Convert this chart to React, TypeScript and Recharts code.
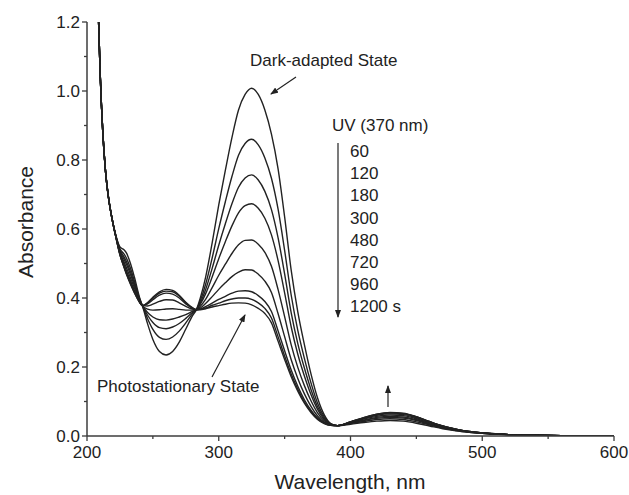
import { LineChart, Line, XAxis, YAxis } from "recharts";

// wavelength grid (nm)
const wavelengths = [
  205, 208, 210, 212, 214, 216, 219,
  222, 225, 228, 230, 233, 236, 240, 242,
  246, 250, 255, 260, 265, 270, 275, 280,
  283, 286, 290, 295, 300, 305, 310, 315,
  320, 325, 330, 335, 340, 345, 350, 355,
  360, 365, 370, 375, 380, 385, 390, 400,
  410, 420, 430, 440, 450, 460, 470, 480,
  490, 500, 520, 540, 560, 580, 600,
];

// steep UV edge, the same for every spectrum (205-219 nm)
const uvEdge = [1.9, 1.3, 1.05, 0.88, 0.77, 0.7, 0.63];

// absorbance from 222 nm on
const dark = [
  0.58, 0.548, 0.54, 0.53, 0.5, 0.46, 0.4, 0.378,
  0.325, 0.28, 0.245, 0.235, 0.245, 0.272, 0.31, 0.348,
  0.366, 0.4, 0.46, 0.56, 0.67, 0.77, 0.865, 0.945,
  0.99, 1.008, 0.99, 0.945, 0.875, 0.775, 0.635, 0.48,
  0.36, 0.265, 0.18, 0.11, 0.062, 0.036, 0.03, 0.034,
  0.039, 0.043, 0.045, 0.043, 0.037, 0.029, 0.021, 0.015,
  0.011, 0.008, 0.004, 0.002, 0.001, 0.0005, 0,
];
const uv60 = [
  0.579, 0.543, 0.528, 0.515, 0.486, 0.449, 0.397, 0.378,
  0.34, 0.309, 0.286, 0.28, 0.287, 0.304, 0.328, 0.354,
  0.366, 0.392, 0.439, 0.516, 0.601, 0.679, 0.752, 0.814,
  0.848, 0.86, 0.844, 0.806, 0.747, 0.658, 0.538, 0.408,
  0.306, 0.225, 0.154, 0.095, 0.056, 0.035, 0.03, 0.036,
  0.042, 0.048, 0.05, 0.048, 0.041, 0.032, 0.023, 0.016,
  0.011, 0.008, 0.004, 0.002, 0.001, 0.0005, 0,
];
const uv120 = [
  0.578, 0.539, 0.52, 0.505, 0.476, 0.442, 0.395, 0.378,
  0.35, 0.329, 0.314, 0.311, 0.316, 0.326, 0.341, 0.358,
  0.366, 0.386, 0.424, 0.486, 0.553, 0.615, 0.673, 0.721,
  0.748, 0.757, 0.742, 0.709, 0.656, 0.575, 0.47, 0.357,
  0.268, 0.197, 0.135, 0.085, 0.052, 0.034, 0.03, 0.037,
  0.045, 0.051, 0.054, 0.052, 0.045, 0.034, 0.024, 0.017,
  0.012, 0.008, 0.004, 0.002, 0.001, 0.0005, 0,
];
const uv180 = [
  0.577, 0.536, 0.513, 0.497, 0.468, 0.436, 0.393, 0.378,
  0.358, 0.345, 0.337, 0.336, 0.339, 0.345, 0.352, 0.361,
  0.366, 0.382, 0.412, 0.461, 0.514, 0.563, 0.609, 0.647,
  0.668, 0.673, 0.66, 0.631, 0.583, 0.509, 0.415, 0.316,
  0.237, 0.174, 0.12, 0.077, 0.048, 0.033, 0.03, 0.038,
  0.046, 0.054, 0.057, 0.055, 0.047, 0.036, 0.025, 0.018,
  0.012, 0.009, 0.004, 0.002, 0.001, 0.0005, 0,
];
const uv300 = [
  0.577, 0.532, 0.505, 0.487, 0.458, 0.429, 0.391, 0.378,
  0.368, 0.365, 0.366, 0.368, 0.369, 0.367, 0.365, 0.365,
  0.366, 0.376, 0.396, 0.43, 0.466, 0.498, 0.529, 0.554,
  0.567, 0.568, 0.556, 0.532, 0.492, 0.425, 0.346, 0.264,
  0.199, 0.146, 0.102, 0.067, 0.044, 0.033, 0.03, 0.039,
  0.049, 0.057, 0.061, 0.059, 0.05, 0.038, 0.027, 0.019,
  0.012, 0.009, 0.004, 0.002, 0.001, 0.0005, 0,
];
const uv480 = [
  0.576, 0.529, 0.498, 0.478, 0.45, 0.422, 0.389, 0.378,
  0.377, 0.382, 0.39, 0.395, 0.394, 0.386, 0.376, 0.368,
  0.366, 0.371, 0.384, 0.404, 0.425, 0.444, 0.462, 0.475,
  0.482, 0.481, 0.469, 0.449, 0.416, 0.355, 0.288, 0.221,
  0.167, 0.122, 0.086, 0.058, 0.04, 0.032, 0.03, 0.04,
  0.051, 0.06, 0.064, 0.062, 0.053, 0.04, 0.028, 0.019,
  0.013, 0.009, 0.004, 0.002, 0.001, 0.0005, 0,
];
const uv720 = [
  0.575, 0.526, 0.493, 0.472, 0.444, 0.418, 0.388, 0.378,
  0.383, 0.395, 0.408, 0.414, 0.411, 0.4, 0.383, 0.371,
  0.366, 0.368, 0.375, 0.385, 0.396, 0.405, 0.414, 0.42,
  0.421, 0.418, 0.407, 0.39, 0.361, 0.305, 0.247, 0.191,
  0.144, 0.105, 0.075, 0.052, 0.038, 0.031, 0.03, 0.041,
  0.052, 0.062, 0.067, 0.065, 0.055, 0.041, 0.029, 0.02,
  0.013, 0.009, 0.004, 0.002, 0.001, 0.0005, 0,
];
const uv960 = [
  0.575, 0.526, 0.491, 0.47, 0.442, 0.416, 0.387, 0.378,
  0.385, 0.399, 0.414, 0.42, 0.418, 0.405, 0.386, 0.371,
  0.366, 0.367, 0.371, 0.379, 0.385, 0.392, 0.397, 0.4,
  0.4, 0.396, 0.386, 0.37, 0.342, 0.288, 0.232, 0.18,
  0.136, 0.099, 0.071, 0.05, 0.037, 0.031, 0.03, 0.041,
  0.053, 0.063, 0.067, 0.065, 0.056, 0.042, 0.029, 0.02,
  0.013, 0.009, 0.004, 0.002, 0.001, 0.0005, 0,
];
const uv1200 = [
  0.575, 0.525, 0.49, 0.468, 0.44, 0.415, 0.387, 0.378,
  0.387, 0.402, 0.418, 0.425, 0.422, 0.408, 0.388, 0.372,
  0.366, 0.366, 0.369, 0.374, 0.378, 0.382, 0.385, 0.386,
  0.385, 0.38, 0.37, 0.355, 0.328, 0.275, 0.222, 0.172,
  0.13, 0.095, 0.068, 0.048, 0.036, 0.031, 0.03, 0.041,
  0.053, 0.063, 0.068, 0.066, 0.056, 0.042, 0.029, 0.02,
  0.013, 0.009, 0.004, 0.002, 0.001, 0.0005, 0,
];

const spectra: [string, number[]][] = [
  ["dark", dark], ["s60", uv60], ["s120", uv120], ["s180", uv180], ["s300", uv300],
  ["s480", uv480], ["s720", uv720], ["s960", uv960], ["s1200", uv1200],
];

const timeLabels = ["60", "120", "180", "300", "480", "720", "960", "1200 s"];
const xTicks = [200, 250, 300, 350, 400, 450, 500, 550, 600];
const yTicks = [0, 0.1, 0.2, 0.3, 0.4, 0.5, 0.6, 0.7, 0.8, 0.9, 1.0, 1.1, 1.2];

const data = wavelengths.map((w, i) => {
  const row: Record<string, number> = { w };
  spectra.forEach(([key, vals]) => {
    row[key] = i < uvEdge.length ? uvEdge[i] : vals[i - uvEdge.length];
  });
  return row;
});

const W = 629, H = 495;
const PLOT_LEFT = 87, PLOT_TOP = 22, PLOT_RIGHT = 614, PLOT_BOTTOM = 436;
const AXIS = "#3c3c3c";
const INK = "#222";
const FONT = "'Liberation Sans', Arial, sans-serif";

function XTick(props: any) {
  const { x, payload } = props;
  const v = payload.value;
  const major = v % 100 === 0;
  return (
    <g>
      <line x1={x} x2={x} y1={PLOT_BOTTOM} y2={PLOT_BOTTOM + (major ? 5 : 3)} stroke={AXIS} strokeWidth={1.3} />
      {major && (
        <text x={x} y={458} textAnchor="middle" fontSize={17} fontFamily={FONT} fill={INK}>{v}</text>
      )}
    </g>
  );
}

function YTick(props: any) {
  const { y, payload } = props;
  const v = payload.value;
  const major = Math.round(v * 10) % 2 === 0;
  return (
    <g>
      <line x1={PLOT_LEFT - (major ? 5 : 3)} x2={PLOT_LEFT} y1={y} y2={y} stroke={AXIS} strokeWidth={1.3} />
      {major && (
        <text x={80} y={y + 6} textAnchor="end" fontSize={17} fontFamily={FONT} fill={INK}>{v.toFixed(1)}</text>
      )}
    </g>
  );
}

function Notes() {
  const txt = { fontSize: 17, fontFamily: FONT, fill: INK };
  return (
    <svg width={W} height={H} style={{ position: "absolute", left: 0, top: 0, pointerEvents: "none" }}>
      <defs>
        <marker id="head" markerWidth="8" markerHeight="6" refX="7" refY="3" orient="auto" markerUnits="userSpaceOnUse">
          <path d="M0,0 L8,3 L0,6 Z" fill={INK} />
        </marker>
      </defs>
      <text x={250} y={66} {...txt}>Dark-adapted State</text>
      <line x1={296} y1={77} x2={271} y2={94} stroke={INK} strokeWidth={1.2} markerEnd="url(#head)" />
      <text x={97} y={392} {...txt}>Photostationary State</text>
      <line x1={212} y1={377} x2={245} y2={315} stroke={INK} strokeWidth={1.2} markerEnd="url(#head)" />
      <text x={332} y={131} {...txt}>UV (370 nm)</text>
      <line x1={338} y1={143} x2={338} y2={317} stroke={INK} strokeWidth={1.2} markerEnd="url(#head)" />
      {timeLabels.map((t, i) => (
        <text key={t} x={350} y={157 + i * 22.2} {...txt}>{t}</text>
      ))}
      <line x1={388} y1={407} x2={388} y2={386} stroke={INK} strokeWidth={1.2} markerEnd="url(#head)" />
      <text x={350} y={489} textAnchor="middle" fontSize={21} fontFamily={FONT} fill={INK}>Wavelength, nm</text>
      <text x={33} y={222} transform="rotate(-90 33 222)" textAnchor="middle" fontSize={21} fontFamily={FONT} fill={INK}>Absorbance</text>
    </svg>
  );
}

export default function App() {
  return (
    <div style={{ position: "absolute", left: 0, top: 0, width: W, height: H, background: "#fff" }}>
      <LineChart
        width={W}
        height={H}
        data={data}
        margin={{ top: PLOT_TOP, right: W - PLOT_RIGHT, left: PLOT_LEFT - 60, bottom: 0 }}
      >
        <XAxis
          dataKey="w" type="number" domain={[200, 600]} ticks={xTicks} allowDataOverflow
          height={H - PLOT_BOTTOM} tick={<XTick />} tickLine={false}
          axisLine={{ stroke: AXIS, strokeWidth: 1.5 }} interval={0}
        />
        <XAxis
          xAxisId="top" orientation="top" dataKey="w" type="number" domain={[200, 600]}
          height={0} tick={false} tickLine={false} axisLine={{ stroke: AXIS, strokeWidth: 1.5 }}
        />
        <YAxis
          type="number" domain={[0, 1.2]} ticks={yTicks} allowDataOverflow width={60}
          tick={<YTick />} tickLine={false} axisLine={{ stroke: AXIS, strokeWidth: 1.5 }} interval={0}
        />
        <YAxis
          yAxisId="right" orientation="right" type="number" domain={[0, 1.2]}
          width={0} tick={false} tickLine={false} axisLine={{ stroke: AXIS, strokeWidth: 1.5 }}
        />
        {spectra.map(([key]) => (
          <Line
            key={key} dataKey={key} type="monotone" dot={false} stroke={INK}
            strokeWidth={1.4} isAnimationActive={false}
          />
        ))}
      </LineChart>
      <Notes />
    </div>
  );
}
